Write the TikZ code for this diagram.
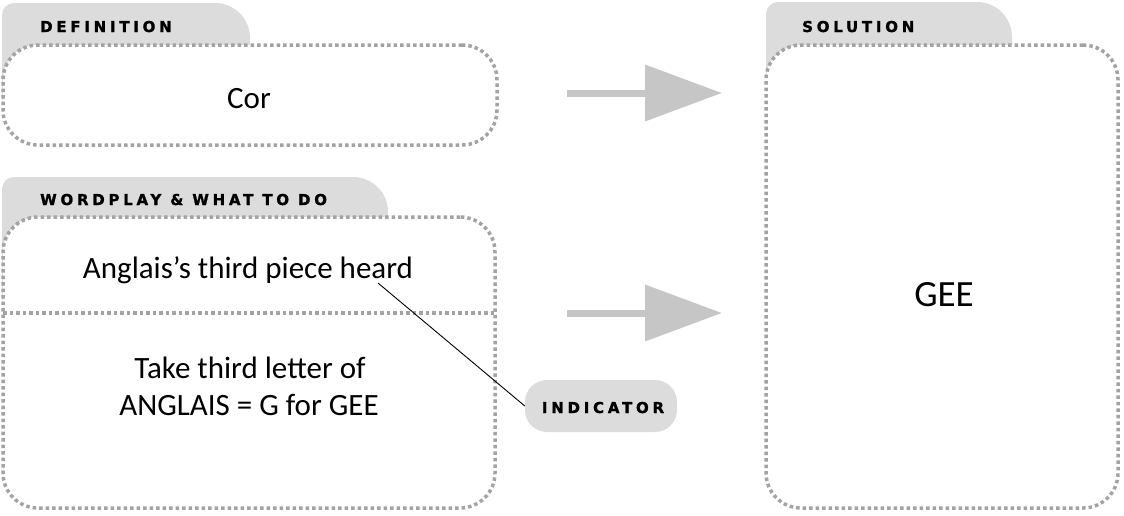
\documentclass[tikz,border=0pt]{standalone}
\usepackage{fontspec}
\setmainfont{Carlito}
\newfontfamily\labelfont[LetterSpace=25,FakeBold=1.4]{DejaVu Sans Bold}
\usetikzlibrary{arrows.meta}
\definecolor{tabgrey}{HTML}{DCDCDC}
\definecolor{dotgrey}{HTML}{A3A3A3}
\definecolor{arrowgrey}{HTML}{C6C6C6}
\tikzset{
  tabshape/.style={fill=tabgrey, draw=none},
  dotbox/.style={draw=dotgrey, line width=3.5pt, dash pattern=on 3.5pt off 3pt, fill=white, rounded corners=35pt, inner sep=0pt, outer sep=0pt},
  dotline/.style={draw=dotgrey, line width=3.5pt, dash pattern=on 3.5pt off 3pt},
  labeltext/.style={font=\labelfont\fontsize{15}{17}\selectfont, inner sep=0pt},
  tablabel/.style={labeltext, anchor=base west},
  bodytext/.style={font=\fontsize{31}{37}\selectfont, align=center, inner sep=0pt, anchor=base},
  bigarrow/.style={draw=arrowgrey, line width=7pt, -{Triangle[length=77pt,width=55pt,fill=arrowgrey]}},
  pill/.style={fill=tabgrey, rounded corners=22pt, minimum width=152pt, minimum height=52pt, inner sep=0pt},
  pointer/.style={draw=black, line width=0.9pt}
}
\begin{document}
\begin{tikzpicture}[x=1pt,y=-1pt]
\useasboundingbox (0,0) rectangle (1124,515);
% tabs
\fill[tabshape] (2,100) -- (2,15) [rounded corners=12pt] -- (2,3) [rounded corners=35pt] -- (250,3) -- (250,100) [sharp corners] -- cycle;
\fill[tabshape] (2,300) -- (2,190) [rounded corners=12pt] -- (2,177) [rounded corners=35pt] -- (388,177) -- (388,300) [sharp corners] -- cycle;
\fill[tabshape] (766,300) -- (766,15) [rounded corners=12pt] -- (766,2) [rounded corners=35pt] -- (1012,2) -- (1012,300) [sharp corners] -- cycle;
% tab labels
\node[tablabel] (deflab) at (40,32) {DEFINITION};
\node[tablabel] (wplab) at (40,205) {WORDPLAY \& WHAT TO DO};
\node[tablabel] (sollab) at (802,32) {SOLUTION};
% boxes
\node[dotbox, minimum width=494pt, minimum height=100pt] (def) at (250,95) {};
\node[dotbox, minimum width=492pt, minimum height=291pt] (wp) at (249,362.5) {};
\node[dotbox, minimum width=352pt, minimum height=463pt] (sol) at (942,276.5) {};
% divider
\coordinate (div) at (250,313);
\draw[dotline] (wp.west |- div) -- (wp.east |- div);
% texts
\node[bodytext] (cor) at (249,108) {Cor};
\node[bodytext] (clue) at (248,278) {Anglais's third piece heard};
\node[bodytext] (expl1) at (250,378) {Take third letter of};
\node[bodytext] (expl2) at (249,415) {ANGLAIS = G for GEE};
\node[bodytext, font=\fontsize{37}{40}\selectfont] (gee) at (944,306) {GEE};
% indicator
\node[pill] (ind) at (601,406) {};
\node[labeltext, anchor=base] (indlab) at (603,413) {INDICATOR};
\coordinate (hd) at (378,283);
\draw[pointer] (hd) -- (ind.west);
% arrows
\draw[bigarrow, shorten <=70pt, shorten >=44pt] (def.east |- 0,93) -- (sol.west |- 0,93);
\draw[bigarrow, shorten <=72pt, shorten >=44pt] (wp.east |- div) -- (sol.west |- div);
\end{tikzpicture}
\end{document}
